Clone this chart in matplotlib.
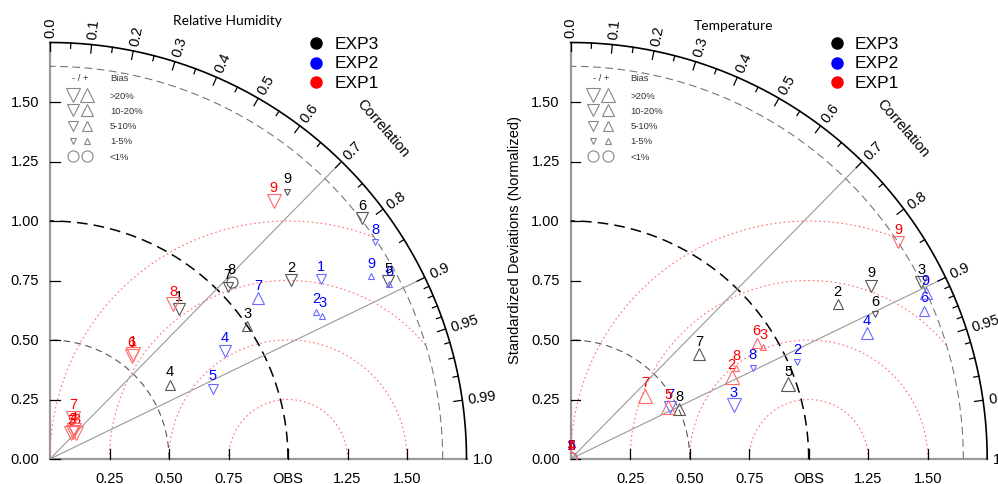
import numpy as np
import matplotlib
matplotlib.use("Agg")
import matplotlib.pyplot as plt
from matplotlib.patches import Rectangle

plt.rcParams['font.family'] = ['Liberation Sans', 'DejaVu Sans']

point_labels = ["1", "2", "3", "4", "5", "6", "7", "8", "9"]
exp_names = ["EXP3", "EXP2", "EXP1"]
exp_colors = ["black", "blue", "red"]
marker_colors = ["#555555", "#6a6aff", "#ff6a6a"]

# Relative Humidity: normalized std dev, correlation, bias (%)
rh_exp3_std = [0.831, 1.262, 0.999, 0.593, 1.607, 1.656, 1.038, 1.064, 1.502]
rh_exp3_corr = [0.652, 0.803, 0.830, 0.850, 0.885, 0.792, 0.719, 0.717, 0.664]
rh_exp3_bias = [-15, -15, 7, 7, -15, -15, -7, 0.5, -3]
rh_exp2_std = [1.365, 1.278, 1.293, 0.863, 0.744, 1.604, 1.105, 1.641, 1.553]
rh_exp2_corr = [0.833, 0.875, 0.885, 0.850, 0.918, 0.889, 0.792, 0.832, 0.869]
rh_exp2_bias = [-7, 3, 3, -15, -7, 3, 15, -3, 3]
rh_exp1_std = [0.563, 0.149, 0.156, 0.156, 0.142, 0.553, 0.199, 0.832, 1.436]
rh_exp1_corr = [0.622, 0.637, 0.707, 0.640, 0.633, 0.620, 0.487, 0.623, 0.655]
rh_exp1_bias = [-25, -25, -25, -25, -25, -25, -25, -25, -25]

# Temperature
t_exp3_std = [0.005, 1.297, 1.649, 0.005, 0.966, 1.417, 0.696, 0.501, 1.457]
t_exp3_corr = [0.5, 0.865, 0.893, 0.5, 0.946, 0.903, 0.774, 0.908, 0.866]
t_exp3_bias = [0.5, 7, -15, 0.5, 25, -3, 15, 15, -15]
t_exp2_std = [0.005, 1.035, 0.722, 1.352, 0.005, 1.610, 0.470, 0.856, 1.647]
t_exp2_corr = [0.5, 0.920, 0.950, 0.920, 0.5, 0.922, 0.887, 0.894, 0.906]
t_exp2_bias = [0.5, -3, -25, 15, 0.5, 7, -15, -3, 15]
t_exp1_std = [0.005, 0.758, 0.935, 0.005, 0.464, 0.920, 0.410, 0.794, 1.650]
t_exp1_corr = [0.5, 0.892, 0.865, 0.5, 0.884, 0.849, 0.761, 0.877, 0.834]
t_exp1_bias = [0.5, 25, 3, 0.5, 25, 7, 25, 3, -15]

bias_classes = ["-/+", ">20%", "10-20%", "5-10%", "1-5%", "<1%"]

PX = 238.0  # pixels per unit


def bias_marker(b):
    a = abs(b)
    if a < 1:
        return 'o', 8.0
    if a < 5:
        ms = 4.8
    elif a < 10:
        ms = 6.6
    elif a < 20:
        ms = 8.8
    else:
        ms = 10.6
    return ('^' if b > 0 else 'v'), ms


def draw_panel(ax, title, title_xy, series, ylabel=None):
    gray = '#999999'
    th = np.linspace(0, np.pi / 2, 300)
    ax.plot([0, 1.75], [0, 0], color=gray, lw=1.6)
    ax.plot([0, 0], [0, 1.75], color=gray, lw=1.6)
    ax.plot(1.75 * np.cos(th), 1.75 * np.sin(th), color='black', lw=1.2)
    ax.plot(0.5 * np.cos(th), 0.5 * np.sin(th), color='#555555', lw=0.8, dashes=(6, 4))
    ax.plot(1.0 * np.cos(th), 1.0 * np.sin(th), color='black', lw=1.1, dashes=(7, 4))
    ax.plot(1.65 * np.cos(th), 1.65 * np.sin(th), color='#777777', lw=0.8, dashes=(7, 4))

    # centred RMS arcs around OBS
    phi = np.linspace(0, np.pi, 500)
    for r in [0.25, 0.5, 0.75, 1.0]:
        x = 1 + r * np.cos(phi)
        y = r * np.sin(phi)
        out = np.hypot(x, y) > 1.65
        x[out] = np.nan
        ax.plot(x, y, color='#ff7070', lw=0.8, ls=(0, (1.5, 2.5)))

    for c in [0.7, 0.9]:
        ax.plot([0, 1.75 * c], [0, 1.75 * np.sqrt(1 - c * c)], color=gray, lw=0.8)

    # correlation ticks and labels
    major = [0.0, 0.1, 0.2, 0.3, 0.4, 0.5, 0.6, 0.7, 0.8, 0.9, 0.95, 0.99]
    minor = [0.05, 0.15, 0.25, 0.35, 0.45, 0.55, 0.65, 0.75, 0.85,
             0.91, 0.92, 0.93, 0.94, 0.96, 0.97, 0.98]
    for c in major + minor:
        s = np.sqrt(1 - c * c)
        ln = 0.036 if c in major else 0.022
        ax.plot([1.75 * c, (1.75 - ln) * c], [1.75 * s, (1.75 - ln) * s], color='black', lw=0.9)
    for c in major + [1.0]:
        s = np.sqrt(1 - c * c)
        txt = f"{c:.2f}" if c in (0.95, 0.99) else f"{c:.1f}"
        ax.text(1.775 * c, 1.775 * s, txt, rotation=np.degrees(np.arccos(c)),
                rotation_mode='anchor', ha='left', va='center', fontsize=10.5)
    ax.text(1.397, 1.392, "Correlation", rotation=-49, ha='center', va='center', fontsize=10.5)

    # std axes ticks
    for v, lab in zip([0, 0.25, 0.5, 0.75, 1.0, 1.25, 1.5],
                      ["0.00", "0.25", "0.50", "0.75", "1.00", "1.25", "1.50"]):
        ax.plot([0, 0.04], [v, v], color='black', lw=0.9)
        ax.text(-0.046, v, lab, ha='right', va='center', fontsize=10.5)
    for v, lab in zip([0.25, 0.5, 0.75, 1.0, 1.25, 1.5],
                      ["0.25", "0.50", "0.75", "OBS", "1.25", "1.50"]):
        ax.plot([v, v], [0, 0.04], color='black', lw=0.9)
        ax.text(v, -0.078, lab, ha='center', va='center', fontsize=10.5)

    ax.text(title_xy[0], title_xy[1], title, ha='center', va='center',
            fontsize=10, family=['Lato', 'DejaVu Sans'])
    if ylabel:
        ax.text(-0.234, 0.924, ylabel, rotation=90, ha='center', va='center', fontsize=10.5)

    # experiment legend
    for i, (name, col) in enumerate(zip(exp_names, exp_colors)):
        yy = 1.747 - i * 0.0815
        ax.plot(1.118, yy, 'o', ms=8, color=col)
        ax.text(1.195, yy, name, ha='left', va='center', fontsize=12.5)

    # bias legend
    lg = '#888888'
    ax.text(0.126, 1.601, "- / +", ha='center', va='center', fontsize=6.8, color='#333333')
    ax.text(0.252, 1.605, "Bias", ha='left', va='center', fontsize=6.8, color='#333333')
    leg_bias = [25, 15, 7, 3, 0.5]
    for k, (b, lab) in enumerate(zip(leg_bias, bias_classes[1:])):
        yy = 1.529 - k * 0.064
        m1, ms = bias_marker(-b)
        m2, _ = bias_marker(b)
        ax.plot(0.095, yy, m1, ms=ms, mfc='none', mec=lg, mew=0.8)
        ax.plot(0.157, yy, m2, ms=ms, mfc='none', mec=lg, mew=0.8)
        ax.text(0.252, yy, lab, ha='left', va='center', fontsize=6.8, color='#333333')

    clip = Rectangle((0, 0), 3, 3, transform=ax.transData)
    for k, (std, corr, bias) in enumerate(series):
        std = np.asarray(std)
        corr = np.asarray(corr)
        xs = std * corr
        ys = std * np.sqrt(1 - corr ** 2)
        for x, y, b, lab in zip(xs, ys, bias, point_labels):
            m, ms = bias_marker(b)
            ln, = ax.plot(x, y, m, ms=ms, mfc='none', mec=marker_colors[k], mew=0.8, zorder=3 + k)
            ln.set_clip_path(clip)
            ax.annotate(lab, (x, y), xytext=(0, 9.6), textcoords='offset points',
                        ha='center', va='center', color=exp_colors[k], fontsize=10.5, zorder=3 + k)

    ax.axis('off')


fig = plt.figure(figsize=(9.98, 4.85), dpi=100)
ax1 = fig.add_axes([0, 0, 499 / 998, 1])
ax1.set_xlim(-50 / PX, 449 / PX)
ax1.set_ylim(-25 / PX, 460 / PX)
ax2 = fig.add_axes([499 / 998, 0, 499 / 998, 1])
ax2.set_xlim(-71.7 / PX, 427.3 / PX)
ax2.set_ylim(-25 / PX, 460 / PX)

rh_series = [(rh_exp3_std, rh_exp3_corr, rh_exp3_bias),
             (rh_exp2_std, rh_exp2_corr, rh_exp2_bias),
             (rh_exp1_std, rh_exp1_corr, rh_exp1_bias)]
t_series = [(t_exp3_std, t_exp3_corr, t_exp3_bias),
            (t_exp2_std, t_exp2_corr, t_exp2_bias),
            (t_exp1_std, t_exp1_corr, t_exp1_bias)]

draw_panel(ax1, "Relative Humidity", (0.747, 1.846), rh_series)
draw_panel(ax2, "Temperature", (0.684, 1.822), t_series,
           ylabel="Standardized Deviations (Normalized)")

fig.savefig("out.png", dpi=100)
